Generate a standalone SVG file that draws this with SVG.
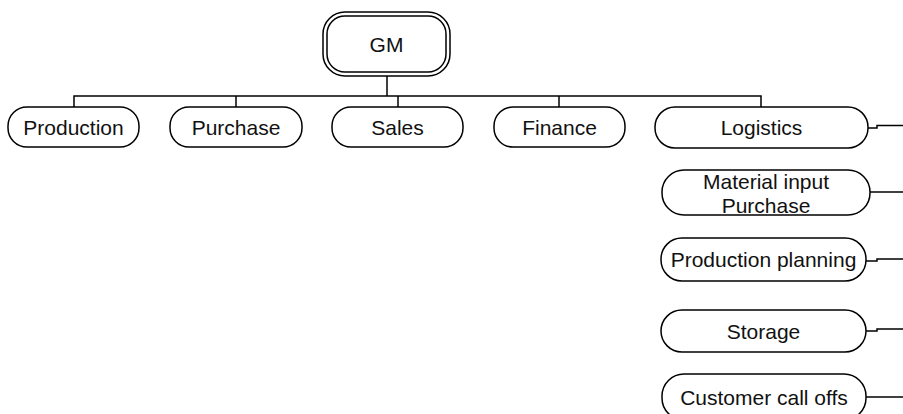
<svg xmlns="http://www.w3.org/2000/svg" width="903" height="414" viewBox="0 0 903 414">
  <style>
    .box { fill: #ffffff; stroke: #000000; stroke-width: 1.5; }
    .lbl { font-family: "Liberation Sans", Arial, sans-serif; font-size: 21px; fill: #111111; text-anchor: middle; }
    .wire { fill: none; stroke: #000000; stroke-width: 1.5; }
  </style>
  <rect width="903" height="414" fill="#ffffff"/>

  <!-- tree connectors -->
  <g id="connectors">
    <path class="wire" d="M387,76 V96"/>
    <path class="wire" d="M74,107 V96 H761 V107"/>
    <path class="wire" d="M236,96 V107"/>
    <path class="wire" d="M398,96 V107"/>
    <path class="wire" d="M559,96 V107"/>
    <!-- side links leaving the logistics column -->
    <path class="wire" d="M868,128 H877 V125.5 H903"/>
    <path class="wire" d="M870,192 H903"/>
    <path class="wire" d="M866,261 H877 V259 H903"/>
    <path class="wire" d="M866,331 H877 V329 H903"/>
    <path class="wire" d="M866,397 H903"/>
  </g>

  <g id="gm">
    <rect class="box" x="323" y="12" width="127" height="64" rx="22"/>
    <rect class="box" x="327" y="16" width="119" height="56" rx="18"/>
    <text class="lbl" x="386.5" y="52">GM</text>
  </g>

  <g id="production">
    <rect class="box" x="8" y="107" width="131" height="40" rx="19"/>
    <text class="lbl" x="73.5" y="135">Production</text>
  </g>

  <g id="purchase">
    <rect class="box" x="170" y="107" width="132" height="40" rx="19"/>
    <text class="lbl" x="236" y="135">Purchase</text>
  </g>

  <g id="sales">
    <rect class="box" x="332" y="107" width="131" height="40" rx="19"/>
    <text class="lbl" x="397.5" y="135">Sales</text>
  </g>

  <g id="finance">
    <rect class="box" x="494" y="107" width="131" height="40" rx="19"/>
    <text class="lbl" x="559.5" y="135">Finance</text>
  </g>

  <g id="logistics">
    <rect class="box" x="655" y="107" width="213" height="41" rx="20"/>
    <text class="lbl" x="761.5" y="135">Logistics</text>
  </g>

  <g id="material-input">
    <rect class="box" x="662" y="170" width="208" height="45" rx="22"/>
    <text class="lbl" x="766" y="189">Material input</text>
    <text class="lbl" x="766" y="213">Purchase</text>
  </g>

  <g id="production-planning">
    <rect class="box" x="661" y="238" width="205" height="43" rx="21"/>
    <text class="lbl" x="763.5" y="267">Production planning</text>
  </g>

  <g id="storage">
    <rect class="box" x="661" y="310" width="205" height="42" rx="21"/>
    <text class="lbl" x="763.5" y="339">Storage</text>
  </g>

  <g id="customer-call-offs">
    <rect class="box" x="662" y="374" width="204" height="46" rx="22"/>
    <text class="lbl" x="764" y="405">Customer call offs</text>
  </g>
</svg>
